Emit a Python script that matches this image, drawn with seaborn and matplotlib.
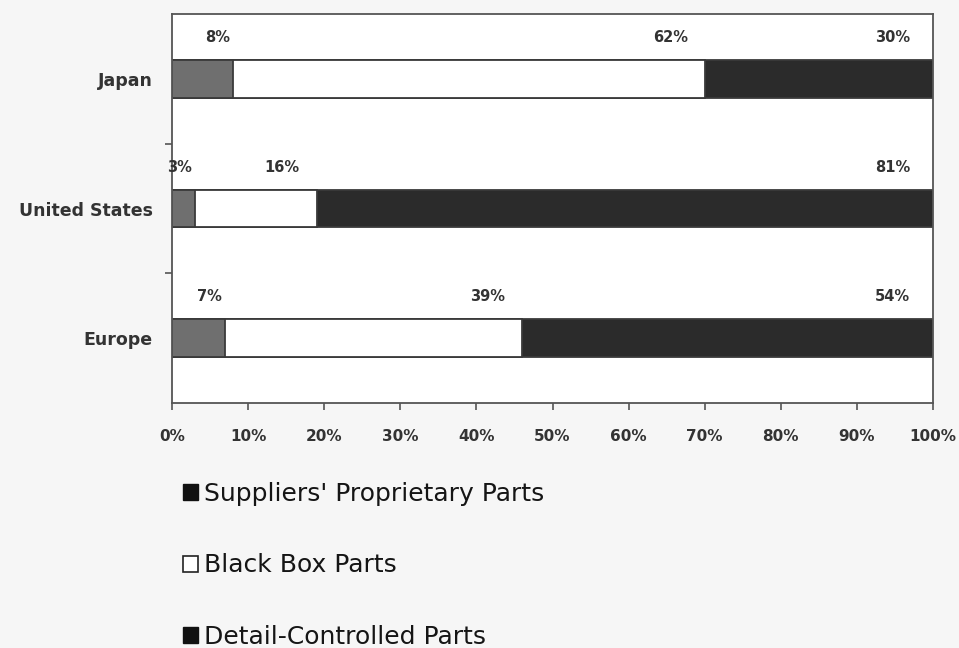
import matplotlib
matplotlib.use("Agg")
import matplotlib.pyplot as plt
import seaborn as sns
import pandas as pd
import numpy as np
from matplotlib.patches import Patch
from matplotlib.ticker import FixedLocator

regions = ["Japan", "United States", "Europe"]
suppliers = [8, 3, 7]
black_box = [62, 16, 39]
detail = [30, 81, 54]
series_names = ["Suppliers' Proprietary Parts", "Black Box Parts", "Detail-Controlled Parts"]
xtick_vals = [0, 10, 20, 30, 40, 50, 60, 70, 80, 90, 100]

sns.set_theme(style="white")
plt.rcParams['font.family'] = ['DejaVu Sans']

df = pd.DataFrame({"region": regions, "sup": suppliers, "bb": black_box, "dc": detail})
df["c1"] = df["sup"]
df["c2"] = df["sup"] + df["bb"]
df["c3"] = df["sup"] + df["bb"] + df["dc"]

fig = plt.figure(figsize=(9.59, 6.48), dpi=100)
fig.patch.set_facecolor("#f6f6f6")
ax = fig.add_axes([172/959, 1-403/648, 761/959, 389/648])
ax.set_facecolor("white")

edge = "#3a3a3a"
w = 0.29
sns.barplot(data=df, y="region", x="c3", order=regions, color="#2b2b2b", width=w,
            edgecolor=edge, linewidth=1.3, ax=ax, orient="h", saturation=1)
sns.barplot(data=df, y="region", x="c2", order=regions, color="white", width=w,
            edgecolor=edge, linewidth=1.3, ax=ax, orient="h", saturation=1)
sns.barplot(data=df, y="region", x="c1", order=regions, color="#6f6f6f", width=w,
            edgecolor=edge, linewidth=1.3, ax=ax, orient="h", saturation=1)

# value labels above bars, right aligned near segment ends
for i, r in df.iterrows():
    for val, end, off in [(r["sup"], r["c1"], 0.4), (r["bb"], r["c2"], 2.2), (r["dc"], r["c3"], 3.0)]:
        ax.text(end - off, i - 0.32, f"{val}%", ha="right", va="center",
                fontsize=10.5, fontweight="bold", color="#333333")

ax.set_xlim(0, 100)
ax.set_ylim(2.5, -0.5)
ax.set_xticks(xtick_vals)
ax.set_xticklabels([f"{v}%" for v in xtick_vals], fontsize=11, fontweight="bold", color="#333333")
ax.set_yticks(range(len(regions)))
ax.set_yticklabels(regions, fontsize=12.5, fontweight="bold", color="#333333")
ax.yaxis.set_minor_locator(FixedLocator([0.5, 1.5]))
ax.tick_params(axis="y", which="major", length=0, pad=14)
ax.tick_params(axis="y", which="minor", length=5, left=True, color="#555555", width=1.2)
ax.tick_params(axis="x", which="major", length=5, bottom=True, direction="out", color="#555555", width=1.2, pad=14)
ax.set_xlabel("")
ax.set_ylabel("")
for s in ax.spines.values():
    s.set_visible(True)
    s.set_color("#555555")
    s.set_linewidth(1.3)

handles = [Patch(facecolor="#111111", edgecolor="#111111"),
           Patch(facecolor="white", edgecolor="#222222", linewidth=1.2),
           Patch(facecolor="#111111", edgecolor="#111111")]
leg = fig.legend(handles, series_names, loc="upper left", bbox_to_anchor=(183/959, 1-482/648),
                 frameon=False, prop={"family": "DejaVu Sans", "size": 18},
                 labelspacing=1.9, handlelength=0.6, handleheight=0.6,
                 handletextpad=0.25, borderpad=0, borderaxespad=0)
for t in leg.get_texts():
    t.set_color("#151515")

fig.savefig("out.png", dpi=100, facecolor=fig.get_facecolor())
